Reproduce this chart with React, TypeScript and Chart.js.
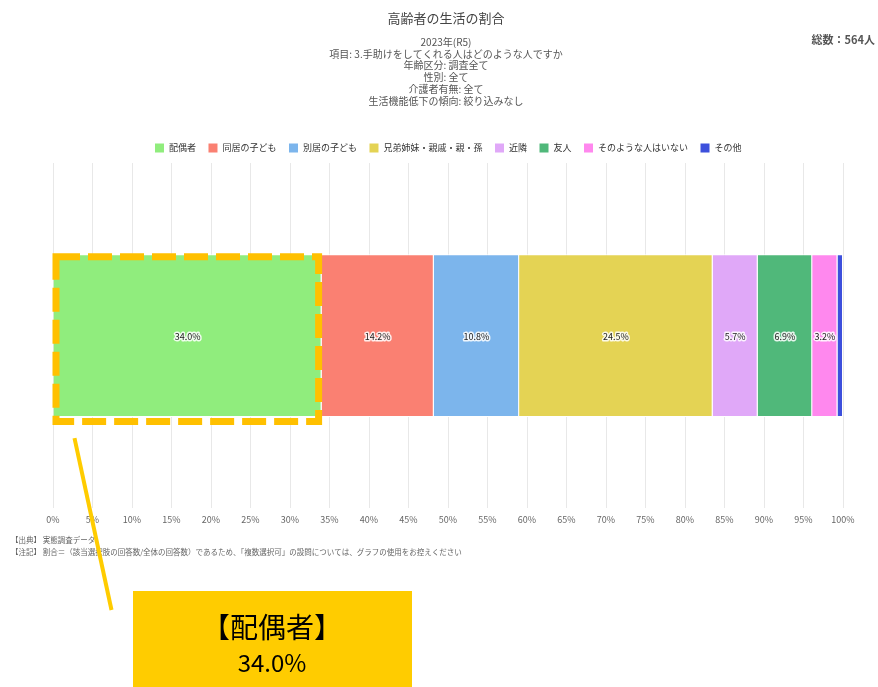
import React, { useEffect, useRef } from "react";
import { Chart, registerables } from "chart.js";

Chart.register(...registerables);

const categories = ["割合"];
const seriesNames = [
  "配偶者",
  "同居の子ども",
  "別居の子ども",
  "兄弟姉妹・親戚・親・孫",
  "近隣",
  "友人",
  "そのような人はいない",
  "その他",
];
const seriesValues = [34.0, 14.2, 10.8, 24.5, 5.7, 6.9, 3.2, 0.7];
const seriesColors = [
  "#90ED7D",
  "#FA8072",
  "#7CB5EC",
  "#E4D354",
  "#E0A8F8",
  "#50B87A",
  "#FF88EE",
  "#3D50DC",
];
const titleText = "高齢者の生活の割合";
const subtitleLines = [
  "2023年(R5)",
  "項目: 3.手助けをしてくれる人はどのような人ですか",
  "年齢区分: 調査全て",
  "性別: 全て",
  "介護者有無: 全て",
  "生活機能低下の傾向: 絞り込みなし",
];
const totalText = "総数：564人";
const footnotes = [
  "【出典】 実態調査データ",
  "【注記】 割合＝（該当選択肢の回答数/全体の回答数）であるため、「複数選択可」の設問については、グラフの使用をお控えください",
];
const calloutLabel = "【配偶者】";
const calloutValue = "34.0%";
const highlightIndex = 0;

const FONT = '"Noto Sans CJK JP", "Noto Sans", sans-serif';

export default function App() {
  const ref = useRef<HTMLCanvasElement | null>(null);

  useEffect(() => {
    if (!ref.current) return;

    const textPlugin = {
      id: "texts",
      afterDraw(chart: any) {
        const ctx = chart.ctx as CanvasRenderingContext2D;
        const cx = (chart.chartArea.left + chart.chartArea.right) / 2 - 2;
        ctx.save();
        ctx.textAlign = "center";
        ctx.textBaseline = "middle";
        ctx.fillStyle = "#444";
        ctx.font = `13px ${FONT}`;
        ctx.fillText(titleText, cx, 18);
        ctx.font = `10px ${FONT}`;
        ctx.fillStyle = "#555";
        subtitleLines.forEach((l, i) => ctx.fillText(l, cx, 42 + i * 11.8));
        ctx.textAlign = "right";
        ctx.font = `bold 11px ${FONT}`;
        ctx.fillStyle = "#555";
        ctx.fillText(totalText, 875, 40);
        ctx.textAlign = "left";
        ctx.font = `7.5px ${FONT}`;
        ctx.fillStyle = "#666";
        footnotes.forEach((l, i) => ctx.fillText(l, 11, 540 + i * 12));

        // data labels
        ctx.textAlign = "center";
        ctx.font = `9px ${FONT}`;
        chart.data.datasets.forEach((ds: any, di: number) => {
          const meta = chart.getDatasetMeta(di);
          meta.data.forEach((el: any, j: number) => {
            const v = ds.data[j];
            if (v < 2) return;
            const px = (el.x + el.base) / 2;
            const label = v.toFixed(1) + "%";
            ctx.lineWidth = 3;
            ctx.strokeStyle = "rgba(255,255,255,0.85)";
            ctx.lineJoin = "round";
            ctx.strokeText(label, px, el.y + 1);
            ctx.fillStyle = "#222";
            ctx.fillText(label, px, el.y + 1);
          });
        });

        // callout
        const el = chart.getDatasetMeta(highlightIndex).data[0] as any;
        const left = Math.min(el.base, el.x);
        const right = Math.max(el.base, el.x);
        const top = el.y - el.height / 2;
        const bottom = el.y + el.height / 2;
        ctx.strokeStyle = "#FFC000";
        ctx.lineWidth = 7;
        ctx.setLineDash([24, 8]);
        ctx.lineJoin = "miter";
        ctx.strokeRect(left + 2.5, top + 2.5, right - left - 5.5, bottom - top + 2);
        ctx.setLineDash([]);

        ctx.strokeStyle = "#FFCC00";
        ctx.lineWidth = 4;
        ctx.beginPath();
        ctx.moveTo(left + 21, bottom + 21);
        ctx.lineTo(left + 58, 610);
        ctx.stroke();

        ctx.fillStyle = "#FFCC00";
        ctx.fillRect(133, 591, 279, 96);
        ctx.fillStyle = "#000";
        ctx.textAlign = "center";
        ctx.font = `28px ${FONT}`;
        ctx.fillText(calloutLabel, 272, 627);
        ctx.font = `24px ${FONT}`;
        ctx.fillText(calloutValue, 272, 663);
        ctx.restore();
      },
    };

    const chart = new Chart(ref.current, {
      type: "bar",
      data: {
        labels: categories,
        datasets: seriesNames.map((name, i) => ({
          label: name,
          data: [seriesValues[i]],
          backgroundColor: seriesColors[i],
          borderColor: "#ffffff",
          borderWidth: 1,
          categoryPercentage: 0.8,
          barPercentage: 0.59,
        })),
      },
      options: {
        indexAxis: "y",
        animation: false,
        responsive: false,
        maintainAspectRatio: false,
        layout: { padding: { top: 131, left: 53, right: 35, bottom: 156 } },
        plugins: {
          legend: {
            position: "top",
            labels: {
              boxWidth: 10,
              boxHeight: 10,
              padding: 12,
              color: "#333",
              font: { size: 9, family: FONT },
            },
          },
          title: { display: false },
          tooltip: { enabled: false },
        },
        scales: {
          x: {
            stacked: true,
            min: 0,
            max: 100,
            ticks: {
              stepSize: 5,
              color: "#666",
              padding: 6,
              font: { size: 9, family: FONT },
              callback: (v: any) => v + "%",
            },
            grid: { color: "#e8e8e8", drawTicks: false },
            border: { display: false },
          },
          y: {
            stacked: true,
            display: false,
          },
        },
      },
      plugins: [textPlugin],
    });
    return () => chart.destroy();
  }, []);

  return (
    <div style={{ position: "absolute", left: 0, top: 0, width: 878, height: 687 }}>
      <canvas ref={ref} width={878} height={687} style={{ width: 878, height: 687 }} />
    </div>
  );
}
